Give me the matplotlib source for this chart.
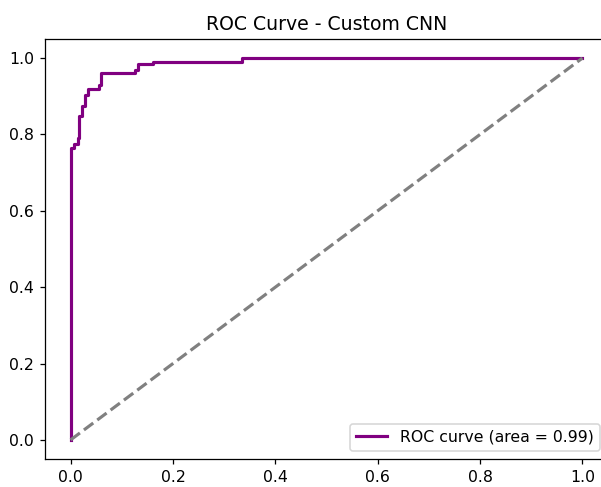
import numpy as np
import matplotlib
matplotlib.use("Agg")
import matplotlib.pyplot as plt

# roc punkty (fpr, tpr) z modelu
fpr = [0.0, 0.0, 0.007, 0.007, 0.014, 0.014, 0.017, 0.017, 0.023, 0.023,
       0.029, 0.029, 0.034, 0.034, 0.055, 0.055, 0.059, 0.059, 0.126, 0.126,
       0.131, 0.131, 0.161, 0.161, 0.335, 0.335, 1.0]
tpr = [0.0, 0.765, 0.765, 0.775, 0.775, 0.792, 0.792, 0.849, 0.849, 0.875,
       0.875, 0.903, 0.903, 0.919, 0.919, 0.930, 0.930, 0.960, 0.960, 0.970,
       0.970, 0.984, 0.984, 0.990, 0.990, 1.0, 1.0]
roc_auc = 0.99

dpi = 113
fig = plt.figure(figsize=(601 / dpi, 487 / dpi), dpi=dpi)
ax = fig.add_axes([45 / 601, 28 / 487, 563 / 601, 420 / 487])

ax.plot(fpr, tpr, color="purple", lw=2, label="ROC curve (area = %0.2f)" % roc_auc)
ax.plot([0, 1], [0, 1], color="gray", lw=2, linestyle="--")

ax.set_title("ROC Curve - Custom CNN")
ax.legend(loc="lower right")

fig.savefig("out.png", dpi=dpi)
